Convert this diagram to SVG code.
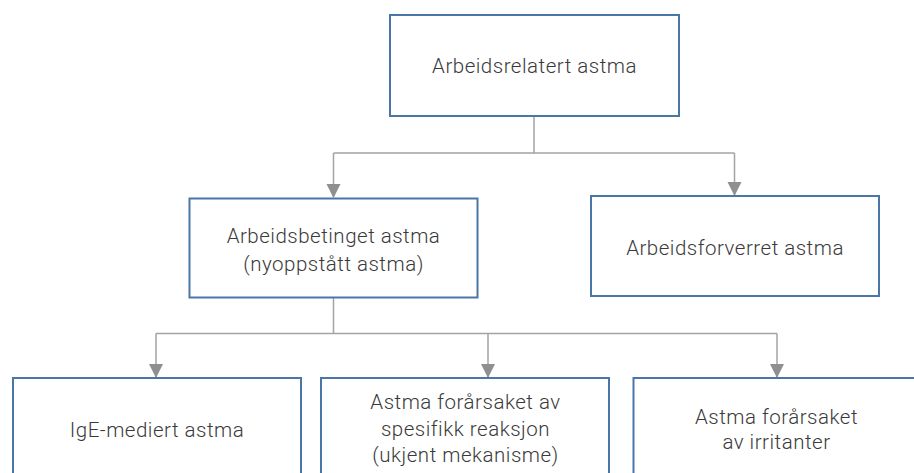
<svg xmlns="http://www.w3.org/2000/svg" width="914" height="473" viewBox="0 0 914 473">
  <style>
    .box { fill: #ffffff; stroke: #4a77a8; stroke-width: 2; }
    .lbl { font-family: Roboto, "Liberation Sans", sans-serif; font-weight: 300; font-size: 20.5px; letter-spacing: 0.5px; fill: #3a3a3a; text-anchor: middle; }
    .conn { fill: none; stroke: #a3a3a3; stroke-width: 1.5; }
  </style>
  <defs>
    <marker id="arrow" markerUnits="userSpaceOnUse" markerWidth="14" markerHeight="17" refX="13" refY="7" orient="auto">
      <path d="M0,0 L14,7 L0,14 Z" fill="#8f8f8f"/>
    </marker>
  </defs>
  <rect width="914" height="473" fill="#ffffff"/>

  <g id="connectors">
    <path class="conn" d="M534,116 V153 H333.5"/>
    <path class="conn" d="M534,153 H734.5"/>
    <path class="conn" d="M333.5,153 V197" marker-end="url(#arrow)"/>
    <path class="conn" d="M734.5,153 V195" marker-end="url(#arrow)"/>
    <path class="conn" d="M333.5,297 V333.5 H156 M333.5,333.5 H777"/>
    <path class="conn" d="M156,333.5 V377" marker-end="url(#arrow)"/>
    <path class="conn" d="M488,333.5 V377" marker-end="url(#arrow)"/>
    <path class="conn" d="M777,333.5 V377" marker-end="url(#arrow)"/>
  </g>

  <g id="node-arbeidsrelatert">
    <rect class="box" x="390" y="15" width="289" height="101"/>
    <text class="lbl" x="534.5" y="73">Arbeidsrelatert astma</text>
  </g>

  <g id="node-arbeidsbetinget">
    <rect class="box" x="189.5" y="198.5" width="288" height="99"/>
    <text class="lbl" x="333.5" y="243">Arbeidsbetinget astma</text>
    <text class="lbl" x="333.5" y="271">(nyoppstått astma)</text>
  </g>

  <g id="node-arbeidsforverret">
    <rect class="box" x="591" y="196" width="288" height="100"/>
    <text class="lbl" x="735" y="255">Arbeidsforverret astma</text>
  </g>

  <g id="node-ige">
    <rect class="box" x="13" y="378" width="288" height="100"/>
    <text class="lbl" x="157" y="437">IgE-mediert astma</text>
  </g>

  <g id="node-spesifikk">
    <rect class="box" x="321" y="378" width="288" height="100"/>
    <text class="lbl" x="465.5" y="409">Astma forårsaket av</text>
    <text class="lbl" x="465.5" y="436">spesifikk reaksjon</text>
    <text class="lbl" x="465.5" y="462">(ukjent mekanisme)</text>
  </g>

  <g id="node-irritanter">
    <rect class="box" x="633.5" y="378" width="288" height="100"/>
    <text class="lbl" x="776.5" y="424">Astma forårsaket</text>
    <text class="lbl" x="776.5" y="449">av irritanter</text>
  </g>
</svg>
